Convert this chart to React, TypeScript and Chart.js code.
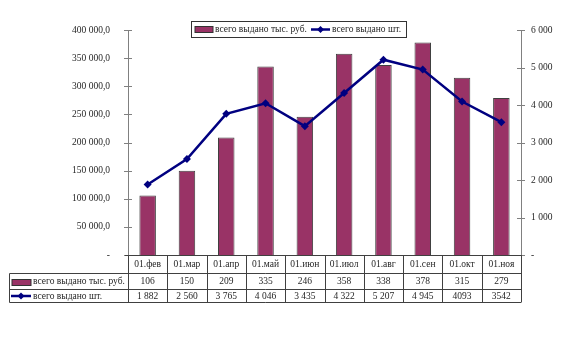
import React, { useEffect, useRef } from "react";
import { Chart, registerables } from "chart.js";

Chart.register(...registerables);

const categories = ["01.фев", "01.мар", "01.апр", "01.май", "01.июн", "01.июл", "01.авг", "01.сен", "01.окт", "01.ноя"];
const sumValues = [106000, 150000, 209000, 335000, 246000, 358000, 338000, 378000, 315000, 279000];
const countValues = [1882, 2560, 3765, 4046, 3435, 4322, 5207, 4945, 4093, 3542];
const sumTableLabels = ["106", "150", "209", "335", "246", "358", "338", "378", "315", "279"];
const countTableLabels = ["1 882", "2 560", "3 765", "4 046", "3 435", "4 322", "5 207", "4 945", "4093", "3542"];
const sumSeriesName = "всего выдано тыс. руб.";
const countSeriesName = "всего выдано шт.";

const BAR_COLOR = "#993366";
const LINE_COLOR = "#000080";
const TEXT_COLOR = "#262626";
const AXIS_COLOR = "#808080";
const FONT_FAMILY = "'Liberation Serif', 'DejaVu Serif', serif";
const FONT = "9.5px " + FONT_FAMILY;

function groupSpace(n: number): string {
  const s = Math.round(n).toString();
  return s.replace(/\B(?=(\d{3})+(?!\d))/g, " ");
}

function drawDiamond(ctx: CanvasRenderingContext2D, x: number, y: number, r: number) {
  ctx.beginPath();
  ctx.moveTo(x, y - r);
  ctx.lineTo(x + r, y);
  ctx.lineTo(x, y + r);
  ctx.lineTo(x - r, y);
  ctx.closePath();
  ctx.fill();
}

const decorPlugin = {
  id: "decor",
  afterDraw(chart: any) {
    const ctx: CanvasRenderingContext2D = chart.ctx;
    const area = chart.chartArea;
    const xs = chart.scales.x;
    const yl = chart.scales.y;
    const yr = chart.scales.y1;
    ctx.save();

    // cross tick marks on value axes
    ctx.strokeStyle = AXIS_COLOR;
    ctx.lineWidth = 1;
    ctx.beginPath();
    yl.ticks.forEach((t: any) => {
      const py = Math.round(yl.getPixelForValue(t.value)) + 0.5;
      ctx.moveTo(area.left - 4, py);
      ctx.lineTo(area.left + 4, py);
    });
    yr.ticks.forEach((t: any) => {
      const py = Math.round(yr.getPixelForValue(t.value)) + 0.5;
      ctx.moveTo(area.right - 4, py);
      ctx.lineTo(area.right + 4, py);
    });
    ctx.stroke();

    // data table
    const n = categories.length;
    const colW = (area.right - area.left) / n;
    const y0 = Math.round(area.bottom) + 0.5;
    const y1 = y0 + 18;
    const y2 = y0 + 34;
    const y3 = y0 + 47;
    const tableLeft = 9.5;
    ctx.strokeStyle = "#404040";
    ctx.beginPath();
    ctx.moveTo(area.left - 3, y0);
    ctx.lineTo(area.right + 1, y0);
    ctx.moveTo(tableLeft, y1);
    ctx.lineTo(area.right, y1);
    ctx.moveTo(tableLeft, y2);
    ctx.lineTo(area.right, y2);
    ctx.moveTo(tableLeft, y3);
    ctx.lineTo(area.right, y3);
    ctx.moveTo(tableLeft, y1);
    ctx.lineTo(tableLeft, y3);
    for (let i = 0; i <= n; i++) {
      const px = Math.round(area.left + i * colW) + 0.5;
      ctx.moveTo(px, y0);
      ctx.lineTo(px, y3);
    }
    ctx.stroke();

    ctx.font = FONT;
    ctx.fillStyle = TEXT_COLOR;
    ctx.textAlign = "center";
    ctx.textBaseline = "middle";
    for (let i = 0; i < n; i++) {
      const cx = xs.getPixelForValue(i);
      ctx.fillText(categories[i], cx, (y0 + y1) / 2);
      ctx.fillText(sumTableLabels[i], cx, (y1 + y2) / 2);
      ctx.fillText(countTableLabels[i], cx, (y2 + y3) / 2 + 0.5);
    }

    // table row keys
    ctx.textAlign = "left";
    ctx.fillStyle = BAR_COLOR;
    ctx.fillRect(12, y1 + 6, 19, 6);
    ctx.strokeStyle = "#333";
    ctx.strokeRect(12, y1 + 6, 19, 6);
    ctx.fillStyle = TEXT_COLOR;
    ctx.fillText(sumSeriesName, 33, (y1 + y2) / 2);
    ctx.strokeStyle = LINE_COLOR;
    ctx.lineWidth = 2.5;
    ctx.beginPath();
    ctx.moveTo(11, (y2 + y3) / 2);
    ctx.lineTo(31, (y2 + y3) / 2);
    ctx.stroke();
    ctx.fillStyle = LINE_COLOR;
    drawDiamond(ctx, 21, (y2 + y3) / 2, 3.5);
    ctx.fillStyle = TEXT_COLOR;
    ctx.fillText(countSeriesName, 33, (y2 + y3) / 2 + 0.5);

    // legend box
    ctx.lineWidth = 1;
    ctx.strokeStyle = "#333";
    ctx.fillStyle = "#ffffff";
    ctx.fillRect(191.5, 21.5, 215, 16);
    ctx.strokeRect(191.5, 21.5, 215, 16);
    ctx.fillStyle = BAR_COLOR;
    ctx.fillRect(195, 26.5, 18, 6);
    ctx.strokeRect(195, 26.5, 18, 6);
    ctx.fillStyle = TEXT_COLOR;
    ctx.fillText(sumSeriesName, 215, 29.5);
    ctx.strokeStyle = LINE_COLOR;
    ctx.lineWidth = 2.5;
    ctx.beginPath();
    ctx.moveTo(311, 29.5);
    ctx.lineTo(330, 29.5);
    ctx.stroke();
    ctx.fillStyle = LINE_COLOR;
    drawDiamond(ctx, 320.5, 29.5, 3.5);
    ctx.fillStyle = TEXT_COLOR;
    ctx.fillText(countSeriesName, 332, 29.5);

    ctx.restore();
  },
};

export default function App() {
  const ref = useRef<HTMLCanvasElement | null>(null);
  useEffect(() => {
    document.body.style.margin = "0";
    if (!ref.current) return;
    const chart = new Chart(ref.current, {
      type: "bar",
      data: {
        labels: categories,
        datasets: [
          {
            type: "line",
            label: countSeriesName,
            data: countValues,
            yAxisID: "y1",
            borderColor: LINE_COLOR,
            backgroundColor: LINE_COLOR,
            borderWidth: 2.5,
            pointStyle: "rectRot",
            pointRadius: 4,
            pointBorderWidth: 0,
            tension: 0,
            order: 1,
          } as any,
          {
            type: "bar",
            label: sumSeriesName,
            data: sumValues,
            yAxisID: "y",
            backgroundColor: BAR_COLOR,
            borderColor: "#404040",
            borderWidth: 1,
            barPercentage: 0.42,
            categoryPercentage: 1,
            order: 2,
          },
        ],
      },
      options: {
        responsive: false,
        animation: false,
        layout: { padding: { top: 30, bottom: 107, left: 0, right: 0 } },
        plugins: { legend: { display: false }, tooltip: { enabled: false } },
        scales: {
          x: { display: false, offset: true },
          y: {
            position: "left",
            min: 0,
            max: 400000,
            ticks: {
              stepSize: 50000,
              padding: 18,
              color: TEXT_COLOR,
              font: { family: FONT_FAMILY, size: 9.5 },
              callback: (v: any) => (Number(v) === 0 ? "-" : groupSpace(Number(v)) + ",0"),
            },
            grid: { display: false, drawTicks: false },
            border: { display: true, color: AXIS_COLOR },
            afterFit: (s: any) => {
              s.width = 128;
            },
          },
          y1: {
            position: "right",
            min: 0,
            max: 6000,
            ticks: {
              stepSize: 1000,
              padding: 10,
              color: TEXT_COLOR,
              font: { family: FONT_FAMILY, size: 9.5 },
              callback: (v: any) => (Number(v) === 0 ? "-" : groupSpace(Number(v))),
            },
            grid: { display: false, drawTicks: false },
            border: { display: true, color: AXIS_COLOR },
            afterFit: (s: any) => {
              s.width = 54;
            },
          },
        },
      },
      plugins: [decorPlugin],
    });
    return () => chart.destroy();
  }, []);
  return (
    <div style={{ width: 575, height: 362, background: "#fff" }}>
      <canvas ref={ref} width={575} height={362} />
    </div>
  );
}
